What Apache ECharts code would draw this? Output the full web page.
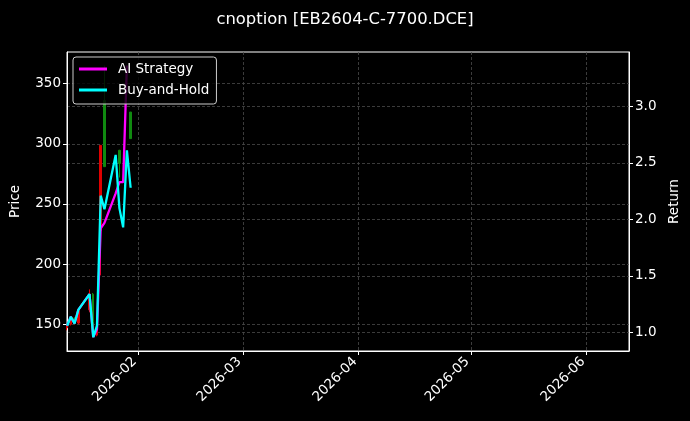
<!DOCTYPE html>
<html>
<head>
<meta charset="utf-8">
<script src="https://cdn.jsdelivr.net/npm/echarts@6/dist/echarts.min.js"></script>
<style>
html,body{margin:0;padding:0;background:#000;}
#c{width:690px;height:421px;}
</style>
</head>
<body>
<div id="c"></div>
<script>
const dates = ['2026-01-13','2026-01-14','2026-01-15','2026-01-16','2026-01-19','2026-01-20','2026-01-21','2026-01-22','2026-01-23','2026-01-26','2026-01-27','2026-01-28','2026-01-29','2026-01-30'];
// [open, close, low, high]
const candles = [
  [147,149,145,150],
  [150,155,149,156],
  [155,151,150,156],
  [151,161,150,162],
  [162,175,160,179],
  [175,141,139,176],
  [141,149,140,150],
  [228,298.7,190.7,298.7],
  [336,281,281,365],
  null,
  [294.6,283.7,272,295],
  null,
  null,
  [326.4,304.3,304.3,326.4]
];
const aiStrategy = [1.06,1.14,1.08,1.20,1.34,0.96,1.03,1.92,1.97,2.23,2.33,2.33,3.36,null];
const buyHold = [1.06,1.14,1.08,1.20,1.34,0.96,1.06,2.21,2.09,2.57,2.10,1.93,2.61,2.28];
const monthTicks = ['2026-02-01','2026-03-01','2026-04-01','2026-05-01','2026-06-01'];
const priceTicks = [150,200,250,300,350];
const returnTicks = [1.0,1.5,2.0,2.5,3.0];

function ts(s){const p=s.split('-');return Date.UTC(+p[0],+p[1]-1,+p[2]);}
const DAY = 86400000;
const xMin = ts('2026-01-13') - 0.02*DAY;
const xMax = xMin + 150.33*DAY;

const candleData = dates.map((d,i)=>candles[i] ? [ts(d)].concat(candles[i]) : [ts(d),'-','-','-','-']);
const aiData = dates.map((d,i)=>[ts(d), aiStrategy[i]==null?'-':aiStrategy[i]]);
const bhData = dates.map((d,i)=>[ts(d), buyHold[i]]);

const FONT = 'DejaVu Sans';
const FS = 13.5;
const gridLine = {show:true, lineStyle:{color:'#4a4a4a', type:[3,2], width:0.8}};

const chart = echarts.init(document.getElementById('c'), null, {renderer:'canvas'});
chart.setOption({
  backgroundColor:'#000',
  animation:false,
  textStyle:{fontFamily:FONT},
  title:{
    text:'cnoption [EB2604-C-7700.DCE]',
    left:'center', top:7,
    textStyle:{color:'#fff', fontSize:16.4, fontWeight:'normal', fontFamily:FONT}
  },
  legend:{
    data:['AI Strategy','Buy-and-Hold'],
    orient:'vertical',
    left:73, top:57,
    padding:[5,7,7,6],
    itemWidth:28, itemHeight:3, itemGap:7,
    icon:'rect',
    backgroundColor:'rgba(0,0,0,0.8)',
    borderColor:'#cccccc', borderWidth:1, borderRadius:3,
    textStyle:{color:'#fff', fontSize:FS, fontFamily:FONT, padding:[0,0,0,6], lineHeight:14},
    z:10
  },
  grid:{left:66, right:61, top:52, bottom:70, show:true, borderColor:'#fff', borderWidth:1, backgroundColor:'transparent'},
  xAxis:{
    type:'value', min:xMin, max:xMax,
    axisLine:{show:true, lineStyle:{color:'#fff', width:1}},
    axisTick:{show:true, length:4, lineStyle:{color:'#fff'}, customValues:monthTicks.map(ts)},
    axisLabel:{color:'#fff', fontSize:FS, fontFamily:FONT, rotate:45, margin:5, padding:[0,5,0,0],
      customValues:monthTicks.map(ts),
      formatter:function(v){const d=new Date(v);return d.getUTCFullYear()+'-'+String(d.getUTCMonth()+1).padStart(2,'0');}},
    splitLine:gridLine
  },
  yAxis:[{
    type:'value', position:'left', min:127.8, max:376.3,
    name:'Price', nameLocation:'middle', nameGap:45, nameRotate:90,
    nameTextStyle:{color:'#fff', fontSize:FS, fontFamily:FONT},
    axisLine:{show:true, lineStyle:{color:'#fff'}},
    axisTick:{show:true, length:4, lineStyle:{color:'#fff'}, customValues:priceTicks},
    axisLabel:{color:'#fff', fontSize:FS, fontFamily:FONT, margin:6, customValues:priceTicks},
    splitLine:gridLine
  },{
    type:'value', position:'right', min:0.837, max:3.48,
    name:'Return', nameLocation:'middle', nameGap:38, nameRotate:90,
    nameTextStyle:{color:'#fff', fontSize:FS, fontFamily:FONT},
    axisLine:{show:true, lineStyle:{color:'#fff'}},
    axisTick:{show:true, length:4, lineStyle:{color:'#fff'}, customValues:returnTicks},
    axisLabel:{color:'#fff', fontSize:FS, fontFamily:FONT, margin:6, customValues:returnTicks,
      formatter:function(v){return v.toFixed(1);}},
    splitLine:gridLine
  }],
  series:[{
    type:'candlestick', name:'Price', xAxisIndex:0, yAxisIndex:0,
    data:candleData, encode:{x:0, y:[1,2,3,4]},
    barWidth:2,
    itemStyle:{color:'#e00000', color0:'#108a10', borderColor:'#e00000', borderColor0:'#108a10', borderWidth:1},
    z:1
  },{
    type:'line', name:'AI Strategy', yAxisIndex:1, data:aiData,
    showSymbol:false, connectNulls:false,
    lineStyle:{color:'#ff00ff', width:2.3}, itemStyle:{color:'#ff00ff'}, z:2
  },{
    type:'line', name:'Buy-and-Hold', yAxisIndex:1, data:bhData,
    showSymbol:false,
    lineStyle:{color:'#00ffff', width:2.3}, itemStyle:{color:'#00ffff'}, z:3
  }]
});
</script>
</body>
</html>
